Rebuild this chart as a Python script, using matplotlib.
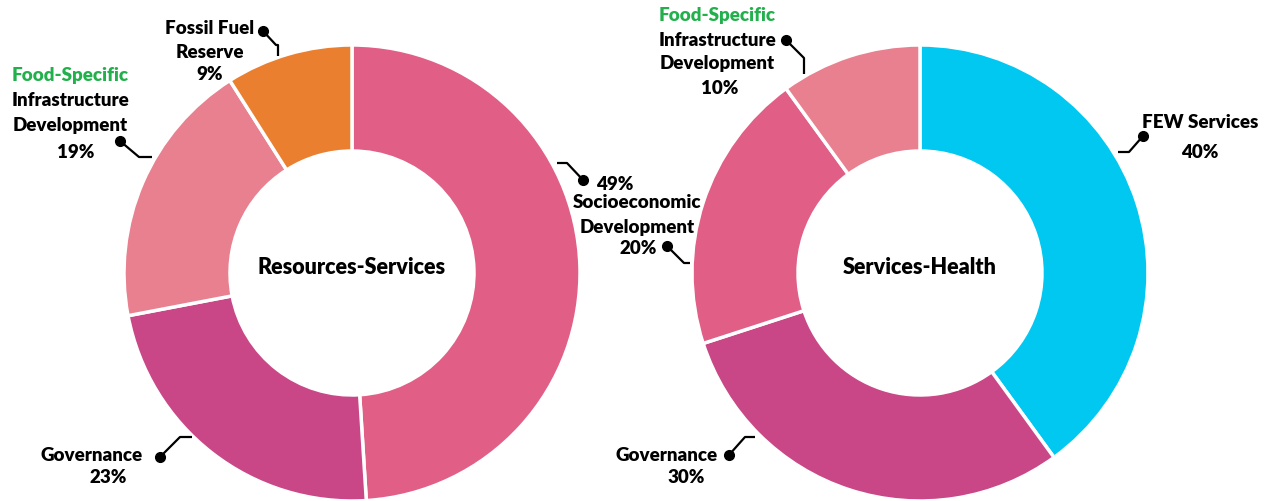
import matplotlib.pyplot as plt

plt.rcParams['font.family'] = ['Lato', 'DejaVu Sans']

# left ring
rs_labels = ["Socioeconomic Development", "Governance", "Food-Specific Infrastructure Development", "Fossil Fuel Reserve"]
rs_values = [49, 23, 19, 9]
rs_colors = ["#E15E86", "#C94787", "#E8808F", "#EB7F30"]

# right ring
sh_labels = ["FEW Services", "Governance", "Socioeconomic Development", "Food-Specific Infrastructure Development"]
sh_values = [40, 30, 20, 10]
sh_colors = ["#00C8F1", "#C94787", "#E15E86", "#E8808F"]

W, H = 1266, 502
fig = plt.figure(figsize=(W / 100, H / 100), dpi=100)
ax = fig.add_axes([0, 0, 1, 1])
ax.set_aspect('equal')

R = 228
HOLE = 122
GREEN = "#21B04B"
FS = 13.5
WEIGHT = 'heavy'


def ring(cx, cy, values, colors, title):
    ax.pie(values, colors=colors, center=(cx, cy), radius=R, startangle=90,
           counterclock=False, frame=True,
           wedgeprops=dict(width=R - HOLE, edgecolor='white', linewidth=2.5))
    ax.text(cx, cy + 6, title, ha='center', va='center', fontsize=15.5,
            fontweight=WEIGHT)


def leader(pts):
    # pts in image pixels (y down); first point carries the dot
    xs = [p[0] for p in pts]
    ys = [H - p[1] for p in pts]
    ax.plot(xs, ys, color='black', lw=1.6, solid_capstyle='butt')
    ax.plot(xs[0], ys[0], 'o', color='black', ms=7)


def label(x, y, s, color='black', ha='center'):
    ax.text(x, H - y, s, ha=ha, va='center', fontsize=FS, fontweight=WEIGHT,
            color=color)


ring(352, H - 274, rs_values, rs_colors, "Resources-Services")
ring(920, H - 274, sh_values, sh_colors, "Services-Health")
ax.set_xlim(0, W)
ax.set_ylim(0, H)
ax.axis('off')

# left ring labels
label(210, 28, "Fossil Fuel")
label(210, 52, "Reserve")
label(210, 74, f"{rs_values[3]}%")
leader([(263, 32), (276, 46), (278, 46), (278, 57)])

label(70, 76, "Food-Specific", color=GREEN)
label(70, 101, "Infrastructure")
label(70, 126, "Development")
label(76, 153, f"{rs_values[2]}%")
leader([(120, 142), (139, 158), (152, 158)])

label(596, 184, f"{rs_values[0]}%", ha='left')
leader([(583, 181), (567, 164), (557, 164)])

label(92, 456, "Governance")
label(108, 478, f"{rs_values[1]}%")
leader([(160, 458), (180, 438), (192, 438)])

# right ring labels
label(637, 203, "Socioeconomic")
label(637, 227, "Development")
label(657, 249, f"{sh_values[2]}%", ha='right')
leader([(667, 247), (684, 264), (690, 264)])

label(717, 16, "Food-Specific", color=GREEN)
label(717, 40, "Infrastructure")
label(717, 64, "Development")
label(720, 88, f"{sh_values[3]}%")
leader([(786, 41), (804, 59), (804, 75)])

label(1200, 123, "FEW Services")
label(1200, 152, f"{sh_values[0]}%")
leader([(1143, 137), (1129, 153), (1118, 153)])

label(667, 456, "Governance")
label(686, 478, f"{sh_values[1]}%")
leader([(729, 456), (745, 438), (755, 438)])

fig.savefig("out.png", dpi=100, facecolor='white')
